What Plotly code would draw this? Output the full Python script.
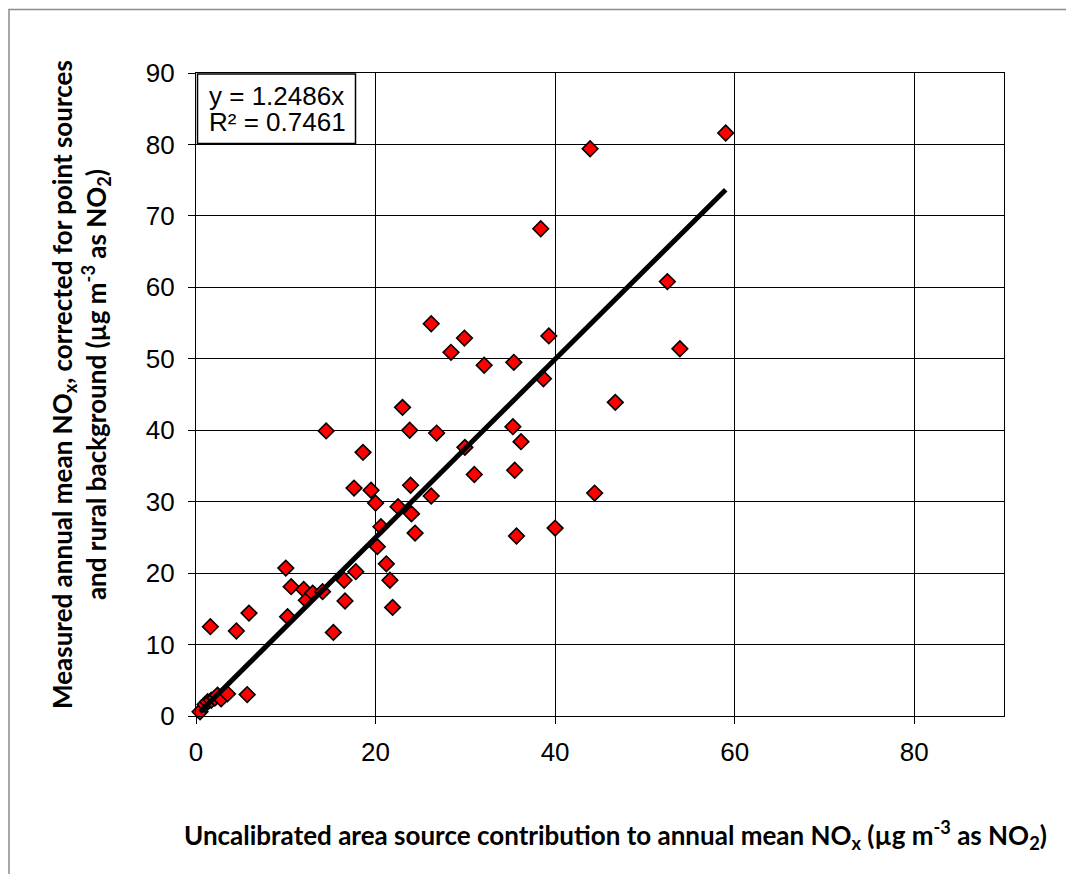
import plotly.graph_objects as go

# ---- data ----
x_area = [0.45, 1.0, 1.3, 1.7, 2.1, 2.4, 2.8, 3.5, 5.7, 1.6,
          4.5, 5.9, 10.0, 10.6, 12.0, 12.3, 13.0, 14.1, 10.2, 15.3,
          16.5, 16.6, 17.8, 20.2, 21.2, 21.6, 21.9, 20.6, 20.0, 19.5,
          17.6, 18.6, 14.5, 22.5, 24.0, 24.4, 23.9, 26.2, 23.0, 23.8,
          26.8, 26.2, 28.4, 29.9, 29.95, 31.0, 32.1, 35.4, 35.3, 36.2,
          35.5, 35.7, 38.7, 39.3, 40.0, 38.4, 43.9, 44.4, 46.7, 52.5,
          53.9, 59.0]
y_meas = [0.6, 1.6, 2.0, 2.2, 2.5, 2.9, 2.4, 3.1, 3.0, 12.5,
          11.9, 14.4, 20.7, 18.1, 17.7, 16.2, 17.2, 17.4, 13.9, 11.7,
          19.0, 16.1, 20.2, 23.7, 21.3, 19.0, 15.2, 26.5, 29.8, 31.6,
          31.9, 36.9, 39.9, 29.3, 28.3, 25.6, 32.3, 30.8, 43.2, 40.0,
          39.6, 54.9, 50.9, 52.9, 37.6, 33.8, 49.1, 49.5, 40.5, 38.4,
          34.4, 25.2, 47.2, 53.2, 26.3, 68.2, 79.4, 31.2, 43.9, 60.8,
          51.4, 81.6]
slope = 1.2486
r_squared = 0.7461
x_ticks = [0, 20, 40, 60, 80]
y_ticks = [0, 10, 20, 30, 40, 50, 60, 70, 80, 90]
x_range = [0, 90]
y_range = [0, 90]

# ---- layout geometry (pixels); page body has an 8px margin ----
OFF = 8
W, H = 1074 - OFF, 874 - OFF
L, T = 196 - OFF, 73 - OFF
PW, PH = 808, 643
R = W - L - PW
B = H - T - PH


def pxp(xp):
    # xp in page pixels
    return (xp - OFF - L) / PW


def pyp(yp):
    return (T + PH - (yp - OFF)) / PH


trend_x = [min(x_area), max(x_area)]
trend_y = [slope * v for v in trend_x]

fig = go.Figure()
fig.add_trace(go.Scatter(
    x=x_area, y=y_meas, mode="markers", cliponaxis=False,
    marker=dict(symbol="diamond", size=12, color="#FF0000",
                line=dict(color="#000000", width=1.6)),
    showlegend=False, hoverinfo="skip"))
fig.add_trace(go.Scatter(
    x=trend_x, y=trend_y, mode="lines",
    line=dict(color="#000000", width=5),
    showlegend=False, hoverinfo="skip"))

tick_font = dict(family="Liberation Sans, Arial", size=26, color="#000000")
title_font = dict(family="Lato, Open Sans", size=26, color="#000000")

fig.update_layout(
    width=W, height=H,
    margin=dict(l=L, r=R, t=T, b=B, autoexpand=False),
    paper_bgcolor="white", plot_bgcolor="white",
    xaxis=dict(range=x_range, tickvals=x_ticks, ticktext=[str(v) for v in x_ticks],
               showgrid=True, gridcolor="#000000", gridwidth=1,
               zeroline=False, showline=True, linecolor="#000000", linewidth=1.3,
               mirror=True, ticks="outside", ticklen=7, tickcolor="#000000",
               tickfont=tick_font, ticklabelstandoff=6, fixedrange=True),
    yaxis=dict(range=y_range, tickvals=y_ticks, ticktext=[str(v) for v in y_ticks],
               showgrid=True, gridcolor="#000000", gridwidth=1,
               zeroline=False, showline=True, linecolor="#000000", linewidth=1.3,
               mirror=True, ticks="outside", ticklen=7, tickcolor="#000000",
               tickfont=tick_font, ticklabelstandoff=8, fixedrange=True),
    shapes=[
        # outer chart border
        dict(type="rect", xref="paper", yref="paper",
             x0=pxp(9), x1=pxp(1070.5), y0=pyp(890), y1=pyp(9.5),
             line=dict(color="#8c8c8c", width=1.5), fillcolor="rgba(0,0,0,0)",
             layer="below"),
        # equation box
        dict(type="rect", xref="paper", yref="paper",
             x0=pxp(197.5), x1=pxp(355.5), y0=pyp(143.5), y1=pyp(74),
             line=dict(color="#000000", width=1.5), fillcolor="white",
             layer="above"),
    ],
    annotations=[
        dict(text="y = %.4fx" % slope, xref="paper", yref="paper",
             x=pxp(207), y=pyp(95.5), xanchor="left", yanchor="middle",
             showarrow=False, font=tick_font),
        dict(text="R² = %.4f" % r_squared, xref="paper", yref="paper",
             x=pxp(207), y=pyp(122.5), xanchor="left", yanchor="middle",
             showarrow=False, font=tick_font),
        dict(text="<b>Uncalibrated area source contribution to annual mean NO<sub>x</sub> "
                  "(µg m<sup>-3</sup> as NO<sub>2</sub>)</b>",
             xref="paper", yref="paper", x=pxp(615), y=pyp(835),
             xanchor="center", yanchor="middle", showarrow=False, font=title_font),
        dict(text="<b>Measured annual mean NO<sub>x</sub>, corrected for point sources<br>"
                  "and rural background (µg m<sup>-3</sup> as NO<sub>2</sub>)</b>",
             xref="paper", yref="paper", x=pxp(80), y=pyp(385),
             xanchor="center", yanchor="middle", textangle=-90,
             showarrow=False, font=title_font),
    ],
)

fig.write_html("out.html")
